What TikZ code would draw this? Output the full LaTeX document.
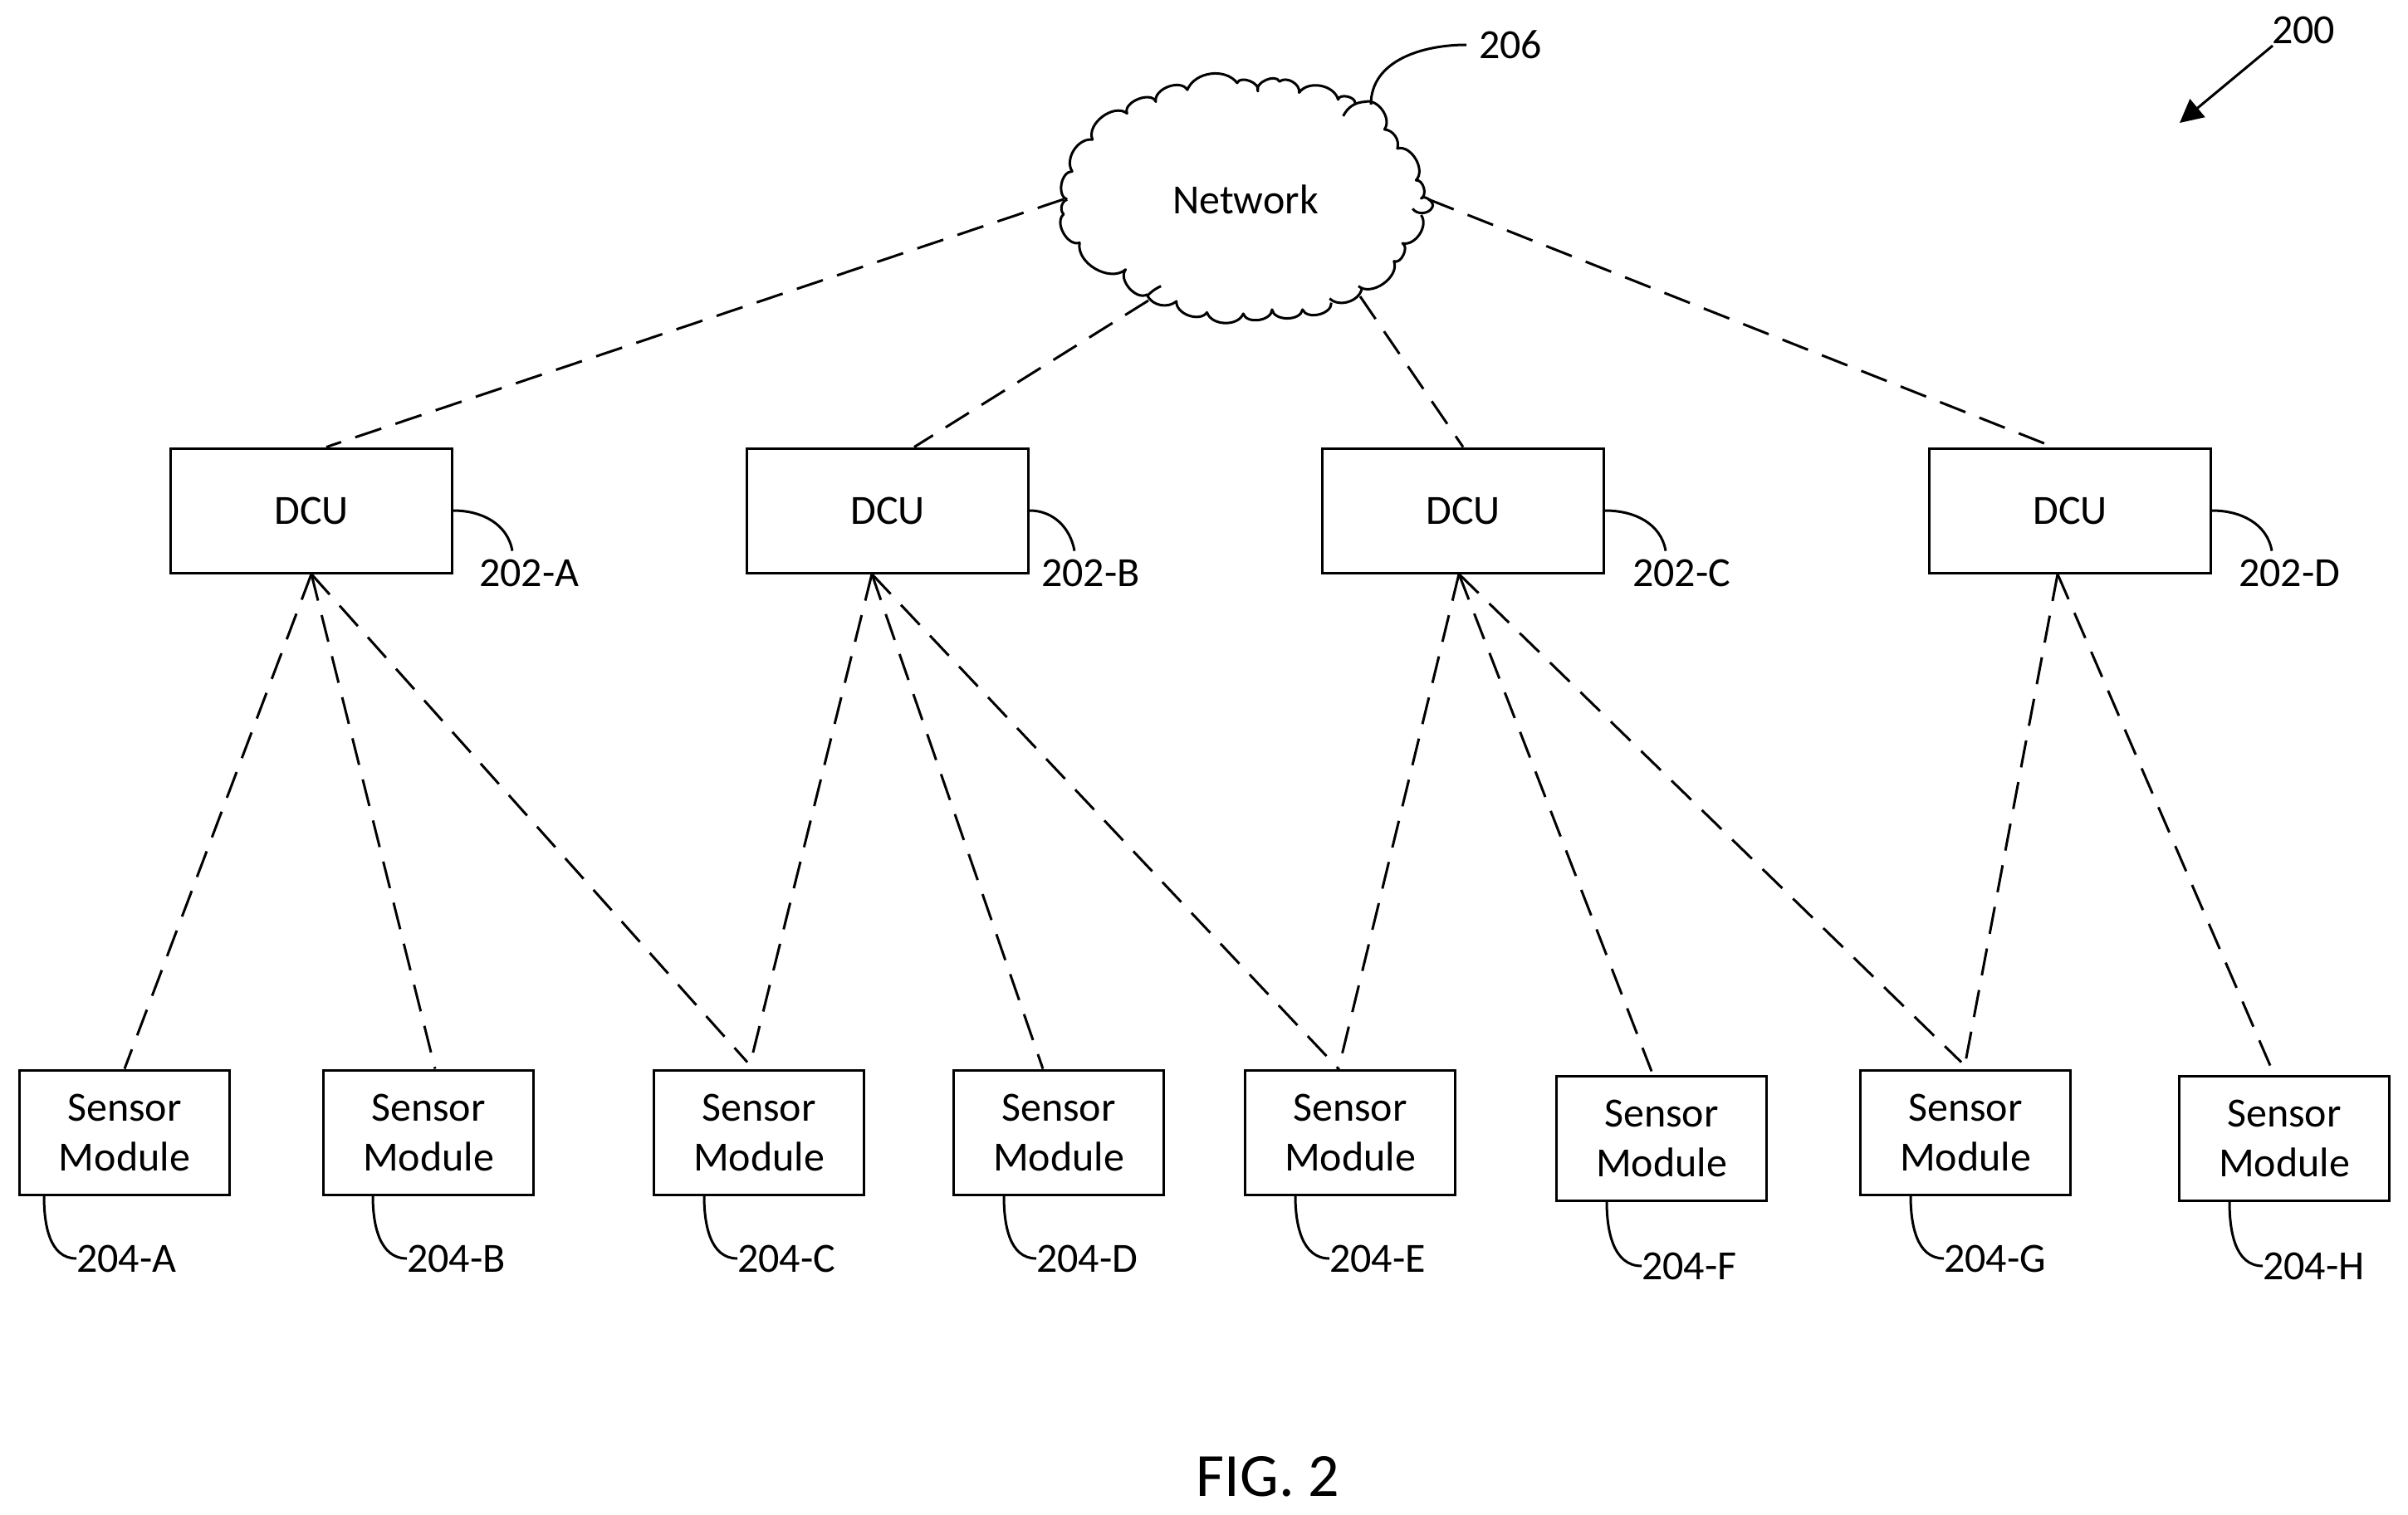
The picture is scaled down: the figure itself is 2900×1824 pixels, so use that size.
\documentclass[tikz,border=0pt]{standalone}
\usepackage{fontspec}
\setmainfont{Carlito}
\usetikzlibrary{arrows.meta}
\tikzset{
  dcubox/.style={draw,line width=3pt,minimum width=339pt,minimum height=150pt,inner sep=0pt,font=\fontsize{50}{60}\selectfont},
  sensorbox/.style={draw,line width=3pt,minimum width=253pt,minimum height=150pt,inner sep=0pt,align=center,font=\fontsize{50}{60}\selectfont},
  reflabel/.style={inner sep=0pt,outer sep=0pt,font=\fontsize{50}{60}\selectfont},
  leader/.style={line width=3pt},
  link/.style={line width=3pt,dash pattern=on 33pt off 18pt},
}
\begin{document}
\begin{tikzpicture}[x=1pt,y=-1pt]
\path[use as bounding box] (0,0) rectangle (2900,1824);

% cloud
\begin{scope}[shift={(1230,0)},x=0.408pt,y=-0.333pt,line width=3pt,line join=round]
\draw (135,722) to[bend left=80] (150,620) to[bend left=65] (210,505)
  to[bend left=75] (312,410) to[bend left=90] (397,368) to[bend left=80] (490,325)
  to[bend left=60] (637,300) to[bend left=90] (698,330) to[bend left=90] (762,295)
  to[bend left=70] (820,335) to[bend left=65] (935,360) to[bend left=90] (985,375);
\draw (950,420) to[bend left=30] (1015,368) to[bend left=70] (1072,468)
  to[bend left=50] (1110,537) to[bend left=75] (1165,652) to[bend left=80] (1180,718)
  to[bend left=85] (1213,750) to[bend left=60] (1155,755);
\draw (1180,778) to[bend left=70] (1125,880) to[bend left=90] (1100,945)
  to[bend left=75] (995,1035);
\draw (1005,1045) to[bend left=60] (910,1080);
\draw (915,1095) to[bend left=80] (830,1120) to[bend left=80] (740,1120)
  to[bend left=80] (655,1135) to[bend left=70] (548,1130) to[bend left=75] (458,1090)
  to[bend left=50] (372,1070) to[bend left=10] (412,1035);
\draw (372,1065) to[bend left=80] (308,975) to[bend left=70] (172,878)
  to[bend left=80] (125,775) to[bend left=60] (135,722);
\end{scope}
\node[reflabel] (network) at (1500,240) {Network};
\coordinate (cloudW) at (1281,240);
\coordinate (cloudSW) at (1383,362);
\coordinate (cloudSE) at (1638,357);
\coordinate (cloudE) at (1720,240);
\coordinate (cloudNE) at (1651,126);

% DCU boxes
\node[dcubox] (dcuA) at (375,615) {DCU};
\node[dcubox] (dcuB) at (1069,615) {DCU};
\node[dcubox] (dcuC) at (1762,615) {DCU};
\node[dcubox] (dcuD) at (2493,615) {DCU};

% sensor modules
\node[sensorbox] (senA) at (150,1364) {Sensor\\Module};
\node[sensorbox] (senB) at (516,1364) {Sensor\\Module};
\node[sensorbox] (senC) at (914,1364) {Sensor\\Module};
\node[sensorbox] (senD) at (1275,1364) {Sensor\\Module};
\node[sensorbox] (senE) at (1626,1364) {Sensor\\Module};
\node[sensorbox] (senF) at (2001,1371) {Sensor\\Module};
\node[sensorbox] (senG) at (2367,1364) {Sensor\\Module};
\node[sensorbox] (senH) at (2751,1371) {Sensor\\Module};

% dashed links
\draw[link] (cloudW) -- ([xshift=18pt]dcuA.north);
\draw[link] (cloudSW) -- ([xshift=32pt]dcuB.north);
\draw[link] (cloudSE) -- (dcuC.north);
\draw[link] (cloudE) -- ([xshift=-20pt]dcuD.north);

\draw[link] (dcuA.south) -- (senA.north);
\draw[link] (dcuA.south) -- ([xshift=8pt]senB.north);
\draw[link] (dcuA.south) -- ([xshift=-14pt,yshift=8pt]senC.north);
\draw[link] ([xshift=-19pt]dcuB.south) -- ([xshift=-10pt,yshift=8pt]senC.north);
\draw[link] ([xshift=-19pt]dcuB.south) -- ([xshift=-19pt]senD.north);
\draw[link] ([xshift=-19pt]dcuB.south) -- ([xshift=-14pt]senE.north);
\draw[link] ([xshift=-5pt]dcuC.south) -- ([xshift=-14pt]senE.north);
\draw[link] ([xshift=-5pt]dcuC.south) -- ([xshift=-12pt,yshift=4pt]senF.north);
\draw[link] ([xshift=-5pt]dcuC.south) -- ([xshift=-5pt,yshift=8pt]senG.north);
\draw[link] ([xshift=-15pt]dcuD.south) -- ([yshift=8pt]senG.north);
\draw[link] ([xshift=-15pt]dcuD.south) -- ([xshift=-14pt,yshift=4pt]senH.north);

% reference numerals
\node[reflabel,anchor=west] (l206) at (1781,54) {206};
\node[reflabel,anchor=west] (l202A) at (577,690) {202-A};
\node[reflabel,anchor=west] (l202B) at (1254,690) {202-B};
\node[reflabel,anchor=west] (l202C) at (1966,690) {202-C};
\node[reflabel,anchor=west] (l202D) at (2696,690) {202-D};
\node[reflabel,anchor=west] (l204A) at (92,1516) {204-A};
\node[reflabel,anchor=west] (l204B) at (490,1516) {204-B};
\node[reflabel,anchor=west] (l204C) at (888,1516) {204-C};
\node[reflabel,anchor=west] (l204D) at (1248,1516) {204-D};
\node[reflabel,anchor=west] (l204E) at (1601,1516) {204-E};
\node[reflabel,anchor=west] (l204F) at (1977,1525) {204-F};
\node[reflabel,anchor=west] (l204G) at (2341,1516) {204-G};
\node[reflabel,anchor=west] (l204H) at (2725,1525) {204-H};
\node[reflabel] (l200) at (2774,36) {200};
\node[reflabel,font=\fontsize{74}{88}\selectfont] (fig) at (1527,1779) {FIG. 2};

% leaders
\draw[leader] (cloudNE) to[out=90,in=180] ([xshift=-15pt]l206.west);
\draw[leader] (dcuA.east) to[out=0,in=100] ([xshift=40pt,yshift=10pt]l202A.north west);
\draw[leader] (dcuB.east) to[out=0,in=100] ([xshift=40pt,yshift=10pt]l202B.north west);
\draw[leader] (dcuC.east) to[out=0,in=100] ([xshift=40pt,yshift=10pt]l202C.north west);
\draw[leader] (dcuD.east) to[out=0,in=100] ([xshift=40pt,yshift=10pt]l202D.north west);
\draw[leader] ([xshift=31pt]senA.south west) to[out=-90,in=180] (l204A.west);
\draw[leader] ([xshift=61pt]senB.south west) to[out=-90,in=180] (l204B.west);
\draw[leader] ([xshift=62pt]senC.south west) to[out=-90,in=180] (l204C.west);
\draw[leader] ([xshift=62pt]senD.south west) to[out=-90,in=180] (l204D.west);
\draw[leader] ([xshift=62pt]senE.south west) to[out=-90,in=180] (l204E.west);
\draw[leader] ([xshift=62pt]senF.south west) to[out=-90,in=180] (l204F.west);
\draw[leader] ([xshift=62pt]senG.south west) to[out=-90,in=180] (l204G.west);
\draw[leader] ([xshift=62pt]senH.south west) to[out=-90,in=180] (l204H.west);
\draw[leader,-{Triangle[length=28pt,width=28pt]}] ([xshift=-37pt,yshift=-19pt]l200.center) -- (2625,148);
\end{tikzpicture}
\end{document}
